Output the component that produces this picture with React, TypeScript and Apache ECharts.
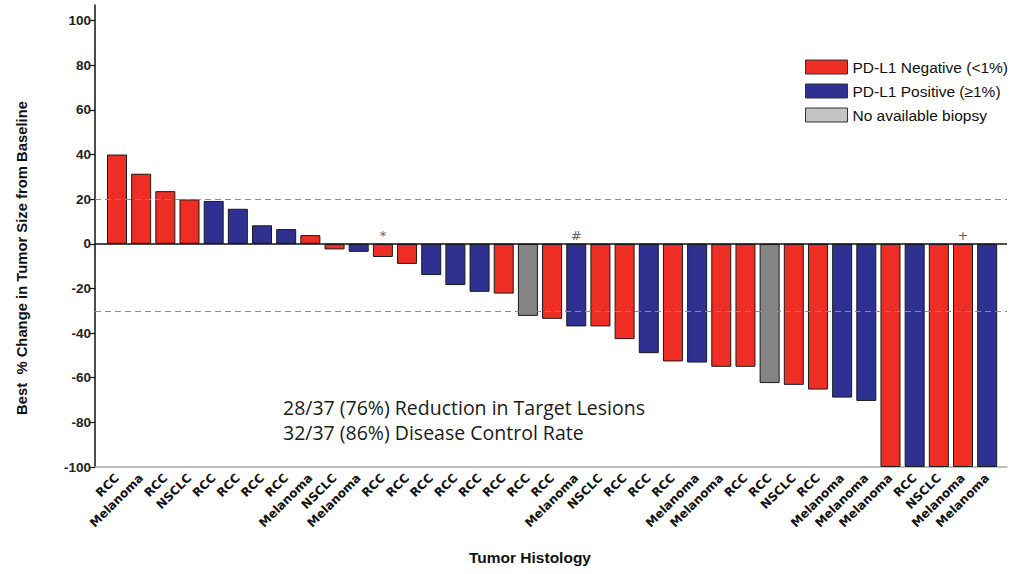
import React, { useEffect, useRef } from "react";
import * as echarts from "echarts";

const categories = [
  "RCC", "Melanoma", "RCC", "NSCLC", "RCC", "RCC", "RCC", "RCC", "Melanoma", "NSCLC",
  "Melanoma", "RCC", "RCC", "RCC", "RCC", "RCC", "RCC", "RCC", "RCC", "Melanoma",
  "NSCLC", "RCC", "RCC", "RCC", "Melanoma", "Melanoma", "RCC", "RCC", "NSCLC", "RCC",
  "Melanoma", "Melanoma", "Melanoma", "RCC", "NSCLC", "Melanoma", "Melanoma",
];

const values = [
  40, 31.4, 23.6, 19.9, 19.2, 15.7, 8.3, 6.6, 3.9, -2.5,
  -3.6, -5.9, -9, -14, -18.5, -21.5, -22.3, -32.3, -33.6, -37,
  -37, -42.7, -49, -52.7, -53.2, -55.1, -55.1, -62.4, -63.2, -65.3,
  -68.9, -70.4, -100, -100, -100, -100, -100,
];

// N = PD-L1 negative, P = PD-L1 positive, G = no available biopsy
const groups = [
  "N", "N", "N", "N", "P", "P", "P", "P", "N", "N",
  "P", "N", "N", "P", "P", "P", "N", "G", "N", "P",
  "N", "N", "P", "N", "P", "N", "N", "G", "N", "N",
  "P", "P", "N", "P", "N", "N", "P",
];

const seriesNames = ["PD-L1 Negative (<1%)", "PD-L1 Positive (\u22651%)", "No available biopsy"];
const groupKeys = ["N", "P", "G"];
const groupColors = ["#ee2e24", "#2e3192", "#858585"];
const legendColors = ["#ee2e24", "#2e3192", "#c4c4c4"];

const annotIdx = [11, 19, 35];
const annotText = ["*", "#", "+"];

const yTicks = [-100, -80, -60, -40, -20, 0, 20, 40, 60, 80, 100];
const refLines = [20, -30];

const summaryLines = [
  "28/37 (76%) Reduction in Target Lesions",
  "32/37 (86%) Disease Control Rate",
];

export default function App() {
  const ref = useRef<HTMLDivElement>(null);

  useEffect(() => {
    if (!ref.current) return;
    const chart = echarts.init(ref.current, undefined, { renderer: "svg" });
    const xIdx = categories.map((_, i) => i);

    const barSeries = groupKeys.map((g, k) => ({
      name: seriesNames[k],
      type: "bar",
      barWidth: 20,
      barGap: "-100%",
      z: 3,
      itemStyle: { color: groupColors[k], borderColor: "#1a1a1a", borderWidth: 1 },
      data: values
        .map((v, i) => (groups[i] === g ? [i, v] : null))
        .filter((d) => d !== null),
    }));

    chart.setOption({
      animation: false,
      grid: { left: 95, right: 17, top: 5, bottom: 107, containLabel: false },
      legend: {
        orient: "vertical",
        left: 805,
        top: 59,
        padding: 0,
        itemWidth: 42,
        itemHeight: 14,
        itemGap: 8,
        icon: "rect",
        selectedMode: false,
        textStyle: { fontSize: 15.5, fontFamily: "Liberation Sans", color: "#111" },
        data: seriesNames.map((n, k) => ({
          name: n,
          itemStyle: { color: legendColors[k], borderColor: "#333", borderWidth: 1 },
        })),
      },
      xAxis: {
        type: "value",
        min: -0.91,
        max: 36.82,
        splitLine: { show: false },
        axisLine: { onZero: false, lineStyle: { color: "#aaaaaa", width: 1.5 } },
        axisTick: { show: false, customValues: xIdx },
        axisLabel: {
          customValues: xIdx,
          rotate: 45,
          margin: 9,
          fontSize: 12,
          fontWeight: "bold",
          fontFamily: "DejaVu Sans",
          color: "#111",
          formatter: (v: number) => categories[Math.round(v)] ?? "",
        },
      },
      yAxis: {
        type: "value",
        min: -100,
        max: 107,
        splitLine: { show: false },
        axisLine: { show: true, onZero: false, lineStyle: { color: "#111", width: 1.5 } },
        axisTick: { show: true, length: 5, customValues: yTicks, lineStyle: { color: "#111", width: 1.2 } },
        axisLabel: {
          customValues: yTicks,
          margin: 4,
          fontSize: 13.5,
          fontWeight: "bold",
          fontFamily: "Liberation Sans",
          color: "#222",
        },
      },
      series: [
        {
          name: "refs",
          type: "line",
          data: [],
          z: 1,
          markLine: {
            silent: true,
            symbol: "none",
            label: { show: false },
            lineStyle: { color: "#8a8a8a", type: [6, 4], width: 1 },
            data: refLines.map((y) => ({ yAxis: y })),
          },
        },
        ...barSeries,
        {
          name: "zero",
          type: "line",
          data: [],
          z: 5,
          markLine: {
            silent: true,
            symbol: "none",
            label: { show: false },
            lineStyle: { color: "#111", type: "solid", width: 1.5 },
            data: [{ yAxis: 0 }],
          },
        },
        {
          name: "annot",
          type: "scatter",
          symbolSize: 0,
          z: 6,
          data: annotIdx.map((i, k) => ({
            value: [i, 0],
            label: {
              show: true,
              position: "top",
              distance: 2,
              formatter: annotText[k],
              fontSize: 13,
              color: "#333",
              fontFamily: "DejaVu Sans",
            },
          })),
        },
      ],
      graphic: [
        {
          type: "text",
          x: 22,
          y: 258,
          rotation: Math.PI / 2,
          style: {
            text: "Best  % Change in Tumor Size from Baseline",
            fontSize: 14.8,
            fontWeight: "bold",
            fontFamily: "Liberation Sans",
            fill: "#111",
            align: "center",
            verticalAlign: "middle",
          },
        },
        {
          type: "text",
          x: 530,
          y: 557,
          style: {
            text: "Tumor Histology",
            fontSize: 15.5,
            fontWeight: "bold",
            fontFamily: "Liberation Sans",
            fill: "#111",
            align: "center",
            verticalAlign: "middle",
          },
        },
        ...summaryLines.map((t, k) => ({
          type: "text",
          x: 283,
          y: 407 + k * 25,
          style: {
            text: t,
            fontSize: 19.5,
            fontFamily: "Open Sans",
            fill: "#1a1a1a",
            align: "left",
            verticalAlign: "middle",
          },
        })),
      ],
    });

    return () => chart.dispose();
  }, []);

  return (
    <div
      ref={ref}
      style={{ position: "fixed", left: 0, top: 0, width: 1024, height: 574, background: "#fff" }}
    />
  );
}
